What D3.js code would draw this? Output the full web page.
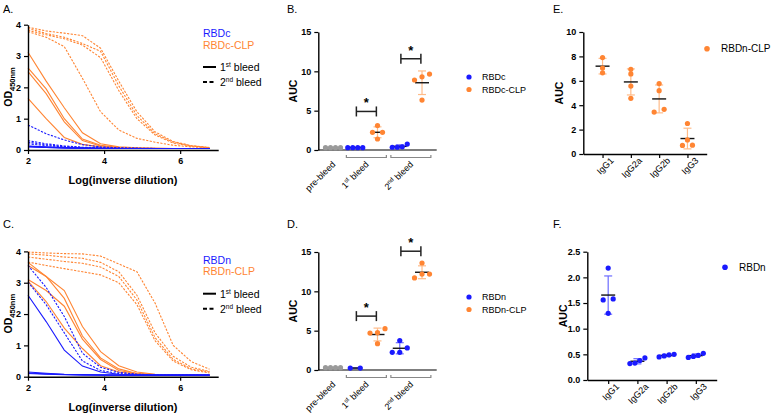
<!DOCTYPE html>
<html><head><meta charset="utf-8">
<script src="https://cdn.jsdelivr.net/npm/d3@7"></script>
<style>
body{margin:0;background:#fff}
text{font-family:"Liberation Sans",Arial,Helvetica,sans-serif}
</style>
</head><body>
<svg id="c" width="780" height="413"></svg>
<script>
// ---------------- DATA ----------------
const dilutions = [2, 2.477, 2.954, 3.431, 3.908, 4.386, 4.863, 5.34, 5.817, 6.294, 6.771];
const xTicksLine = [2, 4, 6];
const yTicksOD = [0, 1, 2, 3, 4];

// Panel A (RBDc)
const A_RBDc_1st = [
  [0.13,0.10,0.08,0.07,0.06,0.05,0.05,0.05,0.05,0.05,0.05],
  [0.12,0.09,0.07,0.06,0.05,0.05,0.05,0.05,0.05,0.05,0.05],
  [0.11,0.08,0.07,0.06,0.05,0.05,0.05,0.05,0.05,0.05,0.05],
  [0.10,0.08,0.06,0.05,0.05,0.05,0.05,0.05,0.05,0.05,0.05]];
const A_RBDc_2nd = [
  [0.80,0.52,0.32,0.17,0.10,0.07,0.06,0.05,0.05,0.05,0.05],
  [0.30,0.20,0.13,0.09,0.07,0.06,0.05,0.05,0.05,0.05,0.05],
  [0.25,0.17,0.11,0.08,0.06,0.05,0.05,0.05,0.05,0.05,0.05],
  [0.20,0.14,0.10,0.07,0.06,0.05,0.05,0.05,0.05,0.05,0.05]];
const A_CLP_1st = [
  [3.12,2.20,1.35,0.55,0.20,0.10,0.07,0.06,0.05,0.05,0.05],
  [2.62,1.95,1.00,0.35,0.15,0.08,0.06,0.05,0.05,0.05,0.05],
  [2.50,1.80,0.90,0.30,0.13,0.08,0.06,0.05,0.05,0.05,0.05],
  [1.65,1.00,0.40,0.18,0.10,0.07,0.05,0.05,0.05,0.05,0.05]];
const A_CLP_2nd = [
  [3.92,3.80,3.73,3.65,3.25,2.20,1.22,0.58,0.27,0.14,0.08],
  [3.88,3.72,3.60,3.40,3.15,2.05,1.10,0.52,0.25,0.13,0.08],
  [3.82,3.68,3.55,3.35,2.95,1.90,1.00,0.48,0.22,0.12,0.07],
  [3.78,3.60,3.30,2.29,1.22,0.64,0.37,0.25,0.15,0.10,0.07]];

// Panel C (RBDn)
const C_RBDn_1st = [
  [2.60,1.76,0.85,0.34,0.15,0.08,0.06,0.05,0.05,0.05,0.05],
  [0.15,0.11,0.08,0.07,0.06,0.05,0.05,0.05,0.05,0.05,0.05],
  [0.12,0.09,0.07,0.06,0.05,0.05,0.05,0.05,0.05,0.05,0.05],
  [0.10,0.08,0.06,0.05,0.05,0.05,0.05,0.05,0.05,0.05,0.05]];
const C_RBDn_2nd = [
  [3.55,2.85,1.92,0.75,0.30,0.14,0.08,0.06,0.05,0.05,0.05],
  [3.02,2.30,1.40,0.50,0.20,0.10,0.07,0.05,0.05,0.05,0.05]];
const C_CLP_1st = [
  [3.65,3.20,2.75,1.60,0.80,0.35,0.15,0.08,0.06,0.05,0.05],
  [3.55,3.20,2.50,1.30,0.60,0.25,0.10,0.07,0.05,0.05,0.05],
  [3.10,2.75,2.25,1.20,0.55,0.20,0.10,0.06,0.05,0.05,0.05],
  [3.05,2.40,1.55,0.90,0.35,0.15,0.08,0.06,0.05,0.05,0.05]];
const C_CLP_2nd = [
  [3.98,3.95,3.93,3.92,3.85,3.60,3.35,2.35,1.00,0.48,0.24],
  [3.92,3.88,3.82,3.78,3.65,3.35,2.60,1.40,0.65,0.30,0.17],
  [3.82,3.75,3.68,3.62,3.50,3.20,2.45,1.25,0.55,0.25,0.15],
  [3.66,3.55,3.45,3.35,3.25,3.00,2.30,1.15,0.50,0.22,0.12]];

// Panel B / D (AUC)
const aucGroups = ["pre-bleed", "1st-RBD", "1st-CLP", "2nd-RBD", "2nd-CLP"];
const aucTicks = [0, 5, 10, 15];
const B_pre = [0.3, 0.3, 0.3, 0.3];
const B_1st_RBDc = [0.3, 0.3, 0.3, 0.3];
const B_1st_CLP = [3.1, 2.25, 2.25, 1.4];
const B_2nd_RBDc = [0.75, 0.4, 0.35, 0.35];
const B_2nd_CLP = [9.3, 9.65, 8.9, 6.35];
const B_sig = [4.9, 11.6];

const D_pre = [0.3, 0.3, 0.3, 0.3];
const D_1st_RBDn = [0.25, 0.25];
const D_1st_CLP = [5.25, 4.7, 4.75, 3.35];
const D_2nd_RBDn = [3.75, 2.8, 2.25, 2.25];
const D_2nd_CLP = [13.6, 12.2, 12.2, 11.7];
const D_sig = [6.85, 15.1];

// Panel E / F (IgG subclasses)
const igg = ["IgG1", "IgG2a", "IgG2b", "IgG3"];
const E_ticks = [0, 2, 4, 6, 8, 10];
const E_vals = [[7.9, 7.05, 6.65], [6.56, 6.94, 5.57, 4.56], [5.77, 5.19, 3.66, 3.44], [2.5, 1.15, 0.7, 0.72]];
const F_ticks = [0, 0.5, 1.0, 1.5, 2.0, 2.5];
const F_vals = [[2.18, 1.58, 1.56, 1.30], [0.32, 0.38, 0.43, 0.33], [0.45, 0.50, 0.47, 0.49], [0.44, 0.52, 0.46, 0.48]];

// ---------------- STYLE ----------------
const BLUE = "#1a1aff", ORANGE = "#ff8533", GRAY = "#9a9a9a";
const BLUE_BAR = "#6b6bff", ORANGE_BAR = "#ffbb88";
const svg = d3.select("#c");

function styleAxis(g) {
  g.select(".domain").attr("stroke", "#000").attr("stroke-width", 1.4);
  g.selectAll(".tick line").attr("stroke", "#000").attr("stroke-width", 1.2);
  g.selectAll(".tick text").attr("font-size", 9).attr("font-weight", "bold").attr("fill", "#000")
    .style("font-family", '"Liberation Sans",Arial,sans-serif');
}
function letter(t, x, y) {
  svg.append("text").attr("x", x).attr("y", y).attr("font-size", 11).text(t);
}
function yTitle(x, y, parts) {
  const t = svg.append("text").attr("transform", `translate(${x},${y}) rotate(-90)`)
    .attr("text-anchor", "middle").attr("font-weight", "bold").attr("font-size", 10.5);
  parts.forEach(p => {
    const s = t.append("tspan").text(p.t);
    if (p.sub) s.attr("font-size", 7.5).attr("dy", 2.5);
  });
}
function supText(x, y, size, a, sup, b, color) {
  const el = svg.append("text").attr("x", x).attr("y", y).attr("font-size", size).attr("fill", color || "#000");
  el.append("tspan").text(a);
  el.append("tspan").text(sup).attr("font-size", size * 0.62).attr("dy", -size * 0.4);
  el.append("tspan").text(b).attr("dy", size * 0.4);
  return el;
}

// ---------------- LINE PANELS ----------------
function linePanel(cfg) {
  const x = d3.scaleLinear().domain([2, 7]).range([28, 218.2]);
  const y = d3.scaleLinear().domain([0, 4]).range([cfg.y0, cfg.y0 - 125.3]);
  const line = d3.line().x((d, i) => x(dilutions[i])).y(d => y(d));
  const g = svg.append("g");
  const draw = (arr, color, dashed) => arr.forEach(s => g.append("path").attr("d", line(s))
    .attr("fill", "none").attr("stroke", color).attr("stroke-width", 1.1)
    .attr("stroke-dasharray", dashed ? "2.2,1.4" : null));
  draw(cfg.clp1, ORANGE, false);
  draw(cfg.clp2, ORANGE, true);
  draw(cfg.rbd2, BLUE, true);
  draw(cfg.rbd1, BLUE, false);
  const ax = svg.append("g").attr("transform", `translate(0,${cfg.y0})`)
    .call(d3.axisBottom(x).tickValues(xTicksLine).tickFormat(d3.format("d")).tickSize(4).tickSizeOuter(0).tickPadding(4));
  styleAxis(ax);
  const ay = svg.append("g").attr("transform", `translate(28,0)`)
    .call(d3.axisLeft(y).tickValues(yTicksOD).tickFormat(d3.format("d")).tickSize(4).tickSizeOuter(0).tickPadding(3));
  styleAxis(ay);
  svg.append("text").attr("x", 123).attr("y", cfg.y0 + 34).attr("text-anchor", "middle")
    .attr("font-weight", "bold").attr("font-size", 11).text("Log(inverse dilution)");
  yTitle(12, cfg.y0 - 63, [{t: "OD"}, {t: "450nm", sub: true}]);
  // legend
  const ly = cfg.y0 - 113;
  svg.append("text").attr("x", 203).attr("y", ly).attr("font-size", 10.5).attr("fill", BLUE).text(cfg.n1);
  svg.append("text").attr("x", 203).attr("y", ly + 11.5).attr("font-size", 10.5).attr("fill", ORANGE).text(cfg.n2);
  svg.append("line").attr("x1", 203).attr("x2", 216).attr("y1", ly + 30).attr("y2", ly + 30)
    .attr("stroke", "#000").attr("stroke-width", 2);
  supText(220, ly + 34, 10.5, "1", "st", " bleed");
  svg.append("line").attr("x1", 203).attr("x2", 216).attr("y1", ly + 45).attr("y2", ly + 45)
    .attr("stroke", "#000").attr("stroke-width", 2).attr("stroke-dasharray", "4,2.5");
  supText(220, ly + 49, 10.5, "2", "nd", " bleed");
}

// ---------------- DOT PLOT HELPERS ----------------
function swarm(vals, y) {
  const idx = vals.map((v, i) => i).sort((a, b) => vals[a] - vals[b]);
  const off = new Array(vals.length).fill(0);
  const clusters = [];
  let cur = [idx[0]];
  for (let k = 1; k < idx.length; k++) {
    if (Math.abs(y(vals[idx[k]]) - y(vals[cur[cur.length - 1]])) < 4.5) cur.push(idx[k]);
    else { clusters.push(cur); cur = [idx[k]]; }
  }
  clusters.push(cur);
  clusters.forEach(c => {
    const n = c.length; if (n < 2) return;
    const s = Math.min(10, 15 / (n - 1));
    c.forEach((id, i) => off[id] = (i - (n - 1) / 2) * s);
  });
  return off;
}
function dotGroup(g, cx, vals, y, color, barColor, showStats) {
  const m = d3.mean(vals), sd = vals.length > 1 ? d3.deviation(vals) : 0;
  if (showStats) {
    g.append("line").attr("x1", cx).attr("x2", cx).attr("y1", y(m + sd)).attr("y2", y(m - sd))
      .attr("stroke", barColor).attr("stroke-width", 1.2);
    [m + sd, m - sd].forEach(v => g.append("line").attr("x1", cx - 4).attr("x2", cx + 4)
      .attr("y1", y(v)).attr("y2", y(v)).attr("stroke", barColor).attr("stroke-width", 1.2));
    g.append("line").attr("x1", cx - 7).attr("x2", cx + 7).attr("y1", y(m)).attr("y2", y(m))
      .attr("stroke", "#111").attr("stroke-width", 1.4);
  }
  const off = swarm(vals, y);
  vals.forEach((v, i) => g.append("circle").attr("cx", cx + off[i]).attr("cy", y(v)).attr("r", 2.6).attr("fill", color));
}

function aucPanel(cfg) {
  const x = d3.scalePoint().domain(aucGroups).range([318.3, 436.7]).padding(0.66);
  const y = d3.scaleLinear().domain([0, 15]).range([cfg.y0, cfg.y0 - 118]);
  const g = svg.append("g");
  g.append("line").attr("x1", 318.3).attr("x2", 436.7).attr("y1", cfg.y0).attr("y2", cfg.y0)
    .attr("stroke", "#555").attr("stroke-width", 1.5);
  const ay = svg.append("g").attr("transform", `translate(318.3,0)`)
    .call(d3.axisLeft(y).tickValues(aucTicks).tickSize(4).tickSizeOuter(0).tickPadding(3));
  styleAxis(ay);
  yTitle(297, cfg.y0 - 59, [{t: "AUC"}]);
  dotGroup(g, x("pre-bleed"), cfg.pre, y, GRAY, GRAY, false);
  dotGroup(g, x("1st-RBD"), cfg.r1, y, BLUE, BLUE_BAR, true);
  dotGroup(g, x("1st-CLP"), cfg.c1, y, ORANGE, ORANGE_BAR, true);
  dotGroup(g, x("2nd-RBD"), cfg.r2, y, BLUE, BLUE_BAR, true);
  dotGroup(g, x("2nd-CLP"), cfg.c2, y, ORANGE, ORANGE_BAR, true);
  [["1st-RBD", "1st-CLP"], ["2nd-RBD", "2nd-CLP"]].forEach((p, i) => {
    const mid = (x(p[0]) + x(p[1])) / 2, yy = y(cfg.sig[i]);
    g.append("line").attr("x1", mid - 10).attr("x2", mid + 10).attr("y1", yy).attr("y2", yy)
      .attr("stroke", "#222").attr("stroke-width", 1.5);
    [mid - 10, mid + 10].forEach(xx => g.append("line").attr("x1", xx).attr("x2", xx)
      .attr("y1", yy - 5).attr("y2", yy + 5).attr("stroke", "#222").attr("stroke-width", 1.5));
    g.append("text").attr("x", mid).attr("y", yy - 4).attr("text-anchor", "middle")
      .attr("font-size", 13).attr("font-weight", "bold").text("*");
    const by = cfg.y0 + 7.5;
    g.append("path").attr("d", `M${mid - 20},${by - 2.5}V${by}H${mid + 20}V${by - 2.5}`)
      .attr("fill", "none").attr("stroke", "#888").attr("stroke-width", 1.2);
  });
  const lab = (cx, parts) => {
    const t = svg.append("text").attr("transform", `translate(${cx + 3},${cfg.y0 + 15}) rotate(-45)`)
      .attr("text-anchor", "end").attr("font-size", 9);
    parts.forEach(p => {
      const s = t.append("tspan").text(p.t);
      if (p.sup) s.attr("font-size", 6).attr("dy", -3.5);
      if (p.down) s.attr("dy", 3.5);
    });
  };
  lab(x("pre-bleed"), [{t: "pre-bleed"}]);
  lab((x("1st-RBD") + x("1st-CLP")) / 2, [{t: "1"}, {t: "st", sup: true}, {t: " bleed", down: true}]);
  lab((x("2nd-RBD") + x("2nd-CLP")) / 2, [{t: "2"}, {t: "nd", sup: true}, {t: " bleed", down: true}]);
  const ly = cfg.y0 - 73;
  svg.append("circle").attr("cx", 469).attr("cy", ly).attr("r", 2.6).attr("fill", BLUE);
  svg.append("text").attr("x", 482).attr("y", ly + 3.3).attr("font-size", 9).text(cfg.n1);
  svg.append("circle").attr("cx", 469).attr("cy", ly + 12.5).attr("r", 2.6).attr("fill", ORANGE);
  svg.append("text").attr("x", 482).attr("y", ly + 15.8).attr("font-size", 9).text(cfg.n2);
}

function iggPanel(cfg) {
  const x = d3.scalePoint().domain(igg).range([cfg.x0, cfg.x1]).padding(cfg.pad);
  const y = d3.scaleLinear().domain([0, cfg.max]).range([cfg.y0, cfg.yTop]);
  const g = svg.append("g");
  const ax = svg.append("g").attr("transform", `translate(0,${cfg.y0})`)
    .call(d3.axisBottom(x).tickSize(4).tickSizeOuter(0).tickPadding(3));
  styleAxis(ax);
  ax.selectAll(".tick text").attr("font-weight", "normal").attr("font-size", 9)
    .attr("text-anchor", "end").attr("transform", "translate(4,0) rotate(-45)").attr("dy", "0.35em");
  const ay = svg.append("g").attr("transform", `translate(${cfg.x0},0)`)
    .call(d3.axisLeft(y).tickValues(cfg.ticks).tickSize(4).tickSizeOuter(0).tickPadding(3).tickFormat(cfg.fmt));
  styleAxis(ay);
  yTitle(cfg.x0 - 20, (cfg.y0 + cfg.yTop) / 2, [{t: "AUC"}]);
  cfg.vals.forEach((v, i) => dotGroup(g, x(igg[i]), v, y, cfg.color, cfg.bar, true));
  svg.append("circle").attr("cx", cfg.lx).attr("cy", cfg.ly).attr("r", 2.8).attr("fill", cfg.color);
  svg.append("text").attr("x", cfg.lx + 14).attr("y", cfg.ly + 3.5).attr("font-size", 10).text(cfg.name);
}

// ---------------- DRAW ----------------
letter("A.", 3, 13);
letter("C.", 3, 228);
letter("B.", 287, 13);
letter("D.", 287, 228);
letter("E.", 553, 13);
letter("F.", 553, 228);

linePanel({y0: 150, rbd1: A_RBDc_1st, rbd2: A_RBDc_2nd, clp1: A_CLP_1st, clp2: A_CLP_2nd, n1: "RBDc", n2: "RBDc-CLP"});
linePanel({y0: 376.7, rbd1: C_RBDn_1st, rbd2: C_RBDn_2nd, clp1: C_CLP_1st, clp2: C_CLP_2nd, n1: "RBDn", n2: "RBDn-CLP"});

aucPanel({y0: 150, pre: B_pre, r1: B_1st_RBDc, c1: B_1st_CLP, r2: B_2nd_RBDc, c2: B_2nd_CLP, sig: B_sig, n1: "RBDc", n2: "RBDc-CLP"});
aucPanel({y0: 370, pre: D_pre, r1: D_1st_RBDn, c1: D_1st_CLP, r2: D_2nd_RBDn, c2: D_2nd_CLP, sig: D_sig, n1: "RBDn", n2: "RBDn-CLP"});

iggPanel({x0: 583.3, x1: 706.7, pad: 0.68, y0: 154, yTop: 32, max: 10, ticks: E_ticks, fmt: d3.format("d"),
  vals: E_vals, color: ORANGE, bar: ORANGE_BAR, name: "RBDn-CLP", lx: 707, ly: 48.7});
iggPanel({x0: 587.3, x1: 716.7, pad: 0.715, y0: 380, yTop: 251.7, max: 2.5, ticks: F_ticks, fmt: d3.format(".1f"),
  vals: F_vals, color: BLUE, bar: BLUE_BAR, name: "RBDn", lx: 725, ly: 267.3});
</script>
</body></html>
